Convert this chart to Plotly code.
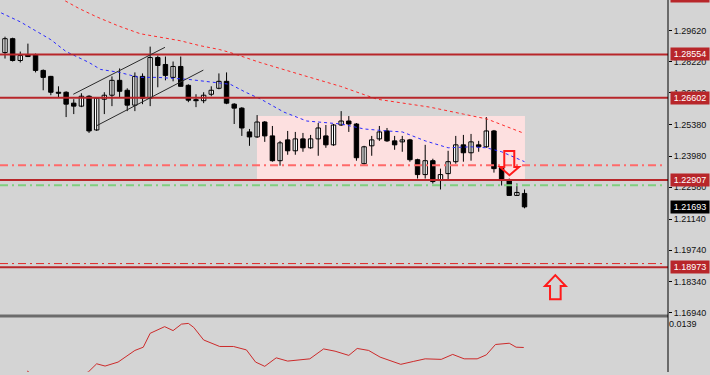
import plotly.graph_objects as go

# ---------------- data ----------------
opens = [1.28638,1.29263,1.28281,1.28548,1.28548,1.27834,1.27566,1.26852,1.26852,1.26361,
         1.26227,1.26673,1.25155,1.26539,1.26718,1.27388,1.26941,1.26271,1.27566,1.26584,
         1.28414,1.28102,1.27521,1.28013,1.27164,1.26517,1.26472,1.26762,1.27030,1.27343,
         1.26316,1.26137,1.25066,1.24842,1.25512,1.24887,1.23771,1.24708,1.24217,1.24753,
         1.24351,1.24753,1.24887,1.24485,1.25378,1.25557,1.25423,1.23637,1.24441,1.24753,
         1.25110,1.24664,1.24619,1.24708,1.23815,1.23146,1.23771,1.22878,1.23190,1.23726,
         1.24485,1.24128,1.24485,1.24396,1.25110,1.23458,1.22878,1.22208,1.22297]
highs = [1.29352,1.29307,1.28682,1.29040,1.28593,1.27879,1.27588,1.27120,1.26896,1.26539,
         1.26807,1.26718,1.26628,1.26852,1.27566,1.27923,1.27030,1.27745,1.27700,1.28906,
         1.28504,1.28459,1.28236,1.28459,1.27209,1.26762,1.26852,1.27120,1.27700,1.27745,
         1.26361,1.26182,1.25200,1.25825,1.25557,1.25334,1.24664,1.25110,1.25066,1.25021,
         1.24932,1.25468,1.25378,1.25423,1.26003,1.25780,1.25468,1.24441,1.24887,1.25334,
         1.25244,1.24887,1.24887,1.24753,1.23860,1.24485,1.23860,1.23414,1.24217,1.24887,
         1.24932,1.24976,1.24664,1.25735,1.25155,1.23503,1.22967,1.22744,1.22476]
lows = [1.28370,1.28236,1.28191,1.28437,1.27745,1.26941,1.26718,1.26628,1.25735,1.25869,
        1.26182,1.25021,1.25110,1.25869,1.26227,1.26628,1.26003,1.26003,1.26316,1.26227,
        1.27075,1.27388,1.27343,1.27120,1.26405,1.26182,1.26361,1.26673,1.26986,1.26316,
        1.25423,1.24887,1.24441,1.24798,1.24619,1.23726,1.23548,1.24039,1.24039,1.24173,
        1.24307,1.23994,1.24351,1.24441,1.25334,1.25066,1.23771,1.23592,1.23994,1.24664,
        1.24619,1.24262,1.24173,1.23726,1.22967,1.22967,1.22744,1.22476,1.22878,1.23637,
        1.23726,1.23771,1.24173,1.24351,1.23235,1.22655,1.22208,1.22208,1.21628]
closes = [1.29263,1.28281,1.28504,1.28459,1.27834,1.27521,1.26852,1.26807,1.26316,1.26227,
          1.26673,1.25110,1.26584,1.26718,1.27388,1.26896,1.26271,1.27566,1.26584,1.28414,
          1.28057,1.27611,1.28013,1.27120,1.26495,1.26472,1.26718,1.26941,1.27343,1.26361,
          1.26137,1.25244,1.24842,1.25512,1.24887,1.23771,1.24575,1.24217,1.24753,1.24351,
          1.24753,1.25244,1.24485,1.25378,1.25557,1.25423,1.23905,1.24396,1.24708,1.25066,
          1.24664,1.24485,1.24708,1.23815,1.23146,1.23771,1.22833,1.23146,1.23726,1.24485,
          1.24128,1.24619,1.24396,1.25110,1.23414,1.22878,1.22208,1.22342,1.21693]
bars = list(range(len(opens)))

fast_ma_x = [-0.5, 2, 4, 6, 8, 11, 12.5, 15, 17.5, 20, 24, 27, 29.5, 31.5, 33.5, 36.5, 39.5,
             44, 47, 50, 52, 55, 58, 61, 63, 65, 68]
fast_ma = [1.30424, 1.30022, 1.29620, 1.29218, 1.28682, 1.28191, 1.27879, 1.27745, 1.27521,
           1.27521, 1.27432, 1.27298, 1.27209, 1.26852, 1.26539, 1.25959, 1.25557, 1.25423,
           1.25200, 1.25110, 1.25066, 1.24664, 1.24351, 1.24396, 1.24351, 1.24173, 1.23726]

slow_ma_x = [7.2, 9.7, 12.0, 14.8, 17.7, 20.7, 22.9, 25.5, 28.1, 29.5, 33.4, 38.6, 43.9,
             48.7, 55.6, 60.0, 63.1, 67.8]
slow_ma = [1.31093, 1.30620, 1.30245, 1.29843, 1.29486, 1.29307, 1.29174, 1.28950, 1.28772,
           1.28638, 1.28191, 1.27656, 1.27120, 1.26539, 1.26182, 1.25869, 1.25646, 1.25021]

osc_x = [2.9, 3.9, 5.9, 8.5, 10.9, 12.0, 13.1, 14.8, 17.0, 18.1, 19.0, 20.9, 22.0, 23.1, 24.0,
         24.7, 26.0, 28.1, 29.9, 31.6, 32.8, 34.0, 35.5, 37.0, 39.9, 41.7, 43.2, 45.0, 46.1,
         47.6, 49.1, 51.8, 53.5, 55.0, 57.1, 58.6, 60.1, 61.8, 63.0, 64.2, 66.0, 66.9, 67.9]
osc = [0.00862, 0.00807, 0.00741, 0.00774, 0.00851, 0.00942, 0.00917, 0.00961, 0.01090,
       0.01126, 0.01280, 0.01354, 0.01310, 0.01382, 0.01390, 0.01346, 0.01206, 0.01134,
       0.01134, 0.01096, 0.00961, 0.00914, 0.01008, 0.00972, 0.00997, 0.01107, 0.01082,
       0.01035, 0.01112, 0.01090, 0.01016, 0.00936, 0.00969, 0.00997, 0.00991, 0.01046,
       0.00997, 0.00997, 0.01041, 0.01156, 0.01170, 0.01126, 0.01123]

price_ticks = [1.29620, 1.28220, 1.26820, 1.25380, 1.23980, 1.22580, 1.21140, 1.19740,
               1.18340, 1.16940]
tick_labels = ["1.29620", "1.28220", "1.26820", "1.25380", "1.23980", "1.22580", "1.21140",
               "1.19740", "1.18340", "1.16940"]
levels = [1.28554, 1.26602, 1.22907, 1.18973]
level_labels = ["1.28554", "1.26602", "1.22907", "1.18973"]
top_level = 1.31183
last_price = 1.21693
osc_label = 0.0139

dashdot_red = 1.23570
dashdot_green = 1.22662
dashdot_low = 1.19141

zone = dict(x0=32.98, x1=68.06, y0=1.22922, y1=1.25780)
channel_upper = (8.94, 1.26762, 20.94, 1.28874)
channel_lower = (12.0, 1.25347, 25.96, 1.27847)

# ---------------- layout constants ----------------
W, H = 710, 375
Y_MIN, Y_MAX = 1.168501, 1.3100415
MAIN_DOM = [1 - 317 / 375, 1.0]
OSC_DOM = [0.0, 54 / 375]
X_RANGE = [-0.654, 86.78]
OSC_RANGE = [0.00851, 0.01445]
BG = "#d4d4d4"
LEVEL_RED = "#b8262a"

fig = go.Figure()

# wicks
wx, wy = [], []
for i, lo, hi in zip(bars, lows, highs):
    wx += [i, i, None]
    wy += [lo, hi, None]
fig.add_trace(go.Scatter(x=wx, y=wy, mode="lines", line=dict(color="black", width=1),
                         hoverinfo="skip", showlegend=False))

up = [i for i in bars if closes[i] >= opens[i]]
dn = [i for i in bars if closes[i] < opens[i]]
for sel, col in ((up, "white"), (dn, "black")):
    fig.add_trace(go.Bar(
        x=sel,
        y=[max(abs(closes[i] - opens[i]), 0.00004) for i in sel],
        base=[min(closes[i], opens[i]) for i in sel],
        width=0.58,
        marker=dict(color=col, line=dict(color="black", width=1)),
        hoverinfo="skip", showlegend=False))

fig.add_trace(go.Scatter(x=fast_ma_x, y=fast_ma, mode="lines",
                         line=dict(color="#2a2aff", width=1, dash="3px,3px"),
                         hoverinfo="skip", showlegend=False))
fig.add_trace(go.Scatter(x=slow_ma_x, y=slow_ma, mode="lines",
                         line=dict(color="#ff2a2a", width=1, dash="3px,3px"),
                         hoverinfo="skip", showlegend=False))

fig.add_trace(go.Scatter(x=osc_x, y=osc, mode="lines", xaxis="x2", yaxis="y2",
                         line=dict(color="#cc2a2a", width=1),
                         hoverinfo="skip", showlegend=False))

shapes = []
shapes.append(dict(type="rect", xref="x", yref="y", layer="below", line=dict(width=0),
                   fillcolor="#fde0e0", **zone))
for lvl, col, wd in ((dashdot_red, "#ff6a6a", 2), (dashdot_green, "#7fcf7f", 2),
                     (dashdot_low, "#e02828", 1)):
    shapes.append(dict(type="line", xref="paper", yref="y", x0=0, x1=0.996, y0=lvl, y1=lvl,
                       line=dict(color=col, width=wd, dash="8px,4px,2px,4px"), layer="above"))
for lvl in levels:
    shapes.append(dict(type="line", xref="paper", yref="y", x0=0, x1=1, y0=lvl, y1=lvl,
                       line=dict(color=LEVEL_RED, width=2), layer="above"))
for (x0, y0, x1, y1) in (channel_upper, channel_lower):
    shapes.append(dict(type="line", xref="x", yref="y", x0=x0, y0=y0, x1=x1, y1=y1,
                       line=dict(color="#2a2a2a", width=1), layer="above"))
down_arrow = ("M 65.35,1.24204 L 66.66,1.24204 L 66.66,1.23490 L 67.28,1.23490 "
              "L 66.03,1.23115 L 64.79,1.23490 L 65.35,1.23490 Z")
up_arrow = ("M 71.34,1.17533 L 72.73,1.17533 L 72.73,1.18132 L 73.39,1.18132 "
            "L 72.03,1.18623 L 70.68,1.18132 L 71.34,1.18132 Z")
for p in (down_arrow, up_arrow):
    shapes.append(dict(type="path", xref="x", yref="y", path=p,
                       line=dict(color="#ff1a1a", width=2), fillcolor="rgba(0,0,0,0)",
                       layer="above"))
shapes.append(dict(type="rect", xref="paper", yref="paper", x0=0, x1=1,
                   y0=1 - 320 / 375, y1=1 - 317 / 375, line=dict(width=0),
                   fillcolor="#6c6c6c", layer="above"))
shapes.append(dict(type="line", xref="paper", yref="paper", x0=1, x1=1, y0=0, y1=1,
                   line=dict(color="black", width=1), layer="above"))

def paper_y(price):
    return MAIN_DOM[0] + (price - Y_MIN) / (Y_MAX - Y_MIN) * (MAIN_DOM[1] - MAIN_DOM[0])

def label(price, txt, bg):
    return dict(x=670 / 668, xref="paper", xanchor="left", y=paper_y(price),
                yref="paper", yanchor="middle", text=txt, showarrow=False,
                bgcolor=bg, font=dict(color="white", size=9, family="Liberation Sans"),
                width=36, height=10, borderpad=1)

annotations = [label(l, t, LEVEL_RED) for l, t in zip(levels, level_labels)]
annotations.append(label(top_level, "1.31183", LEVEL_RED))
annotations.append(label(last_price, "1.21693", "black"))

fig.update_layout(
    width=W, height=H,
    margin=dict(l=0, r=42, t=0, b=0),
    paper_bgcolor=BG, plot_bgcolor=BG,
    barmode="overlay",
    showlegend=False,
    shapes=shapes,
    annotations=annotations,
    xaxis=dict(domain=[0, 1], range=X_RANGE, anchor="y", showgrid=False, zeroline=False,
               showticklabels=False, ticks="", fixedrange=True),
    yaxis=dict(domain=MAIN_DOM, range=[Y_MIN, Y_MAX], side="right", anchor="x",
               tickvals=price_ticks, ticktext=tick_labels, ticks="outside", ticklen=3,
               tickcolor="black", showgrid=False, zeroline=False, showline=False,
               tickfont=dict(family="Liberation Sans", size=9, color="#111111")),
    xaxis2=dict(domain=[0, 1], range=X_RANGE, anchor="y2", matches="x", showgrid=False,
                zeroline=False, showticklabels=False, ticks=""),
    yaxis2=dict(domain=OSC_DOM, range=OSC_RANGE, side="right", anchor="x2",
                tickvals=[osc_label], ticktext=["0.0139"], ticks="", showgrid=False,
                zeroline=False, showline=False,
                tickfont=dict(family="Liberation Sans", size=9, color="#111111")),
)

fig.write_html("out.html", config={"displayModeBar": False})

# remove the browser's default page margin so the figure fills the window
with open("out.html", encoding="utf-8") as f:
    html = f.read()
html = html.replace("<head>", "<head><style>html,body{margin:0;padding:0;overflow:hidden;"
                    "background:%s}</style>" % BG, 1)
with open("out.html", "w", encoding="utf-8") as f:
    f.write(html)
